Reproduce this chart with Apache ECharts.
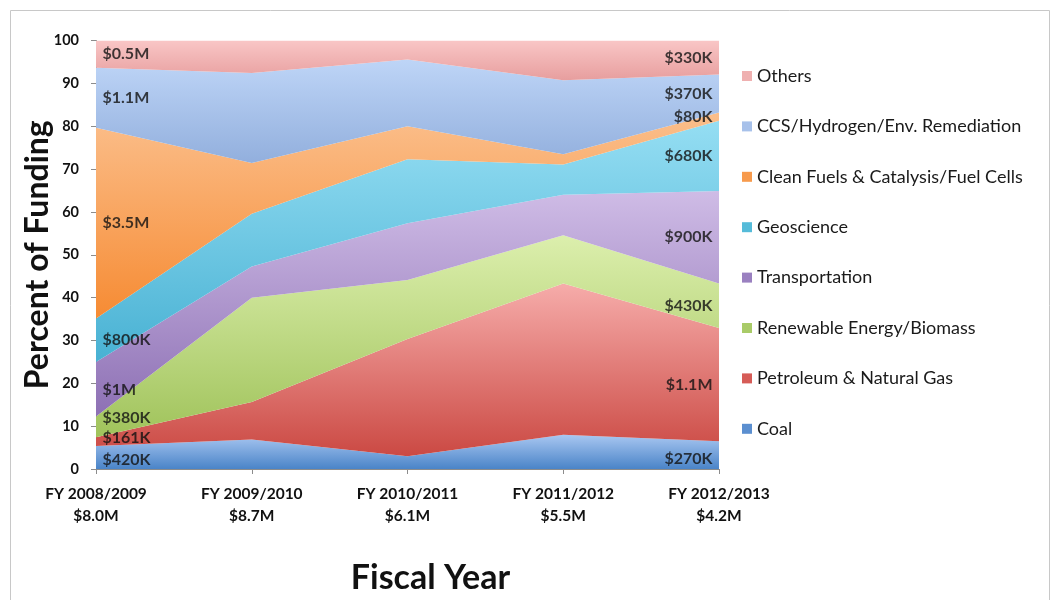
<!DOCTYPE html>
<html>
<head>
<meta charset="utf-8">
<script src="https://cdn.jsdelivr.net/npm/echarts@6/dist/echarts.min.js"></script>
<style>
  html, body { margin: 0; padding: 0; background: #ffffff; }
  #chart { width: 1059px; height: 600px; }
</style>
</head>
<body>
<div id="chart"></div>
<script>
// Fiscal years and the total budget of each year
const fiscalYears = ['FY 2008/2009', 'FY 2009/2010', 'FY 2010/2011', 'FY 2011/2012', 'FY 2012/2013'];
const yearTotals = ['$8.0M', '$8.7M', '$6.1M', '$5.5M', '$4.2M'];

// Funding per program area, in thousands of dollars
const coal           = [420,  600,  180,  440,  270];
const petroleum      = [161,  760, 1670, 1940, 1100];
const renewable      = [380, 2120,  840,  620,  430];
const transportation = [1000, 635,  805,  520,  900];
const geoscience     = [800, 1070,  910,  390,  680];
const cleanFuels     = [3500, 1030, 470,  130,   80];
const ccs            = [1100, 1830, 950,  950,  370];
const others         = [500,  660,  270,  510,  330];

// Dollar labels written on the first and last year, bottom band first
const firstYearLabels = ['$420K', '$161K', '$380K', '$1M', '$800K', '$3.5M', '$1.1M', '$0.5M'];
const lastYearLabels  = ['$270K', '$1.1M', '$430K', '$900K', '$680K', '$80K', '$370K', '$330K'];

const seriesNames = [
  'Coal',
  'Petroleum & Natural Gas',
  'Renewable Energy/Biomass',
  'Transportation',
  'Geoscience',
  'Clean Fuels & Catalysis/Fuel Cells',
  'CCS/Hydrogen/Env. Remediation',
  'Others'
];
const seriesValues = [coal, petroleum, renewable, transportation, geoscience, cleanFuels, ccs, others];

// Gradient fills: [top colour, bottom colour, legend swatch]
const palette = [
  ['#a9c7f1', '#4a84c8', '#5b8fd0'],
  ['#f6acaa', '#cb4943', '#d65c57'],
  ['#dcefad', '#a0c35b', '#a9cb68'],
  ['#cfbce6', '#8d70b4', '#9a80c0'],
  ['#95def3', '#48b1d3', '#55bbd9'],
  ['#fbbf8c', '#f68b33', '#f79a4c'],
  ['#bed5f7', '#92afdd', '#a7c1ea'],
  ['#f9c6c6', '#e79e9e', '#efb0b0']
];

const FONT = 'Lato, "Open Sans", "DejaVu Sans", sans-serif';

function gradient(top, bottom) {
  return new echarts.graphic.LinearGradient(0, 0, 0, 1, [
    { offset: 0, color: top },
    { offset: 1, color: bottom }
  ]);
}

// Convert dollars to shares of each year's total
const yearSums = fiscalYears.map((_, j) => seriesValues.reduce((s, arr) => s + arr[j], 0));
const percents = seriesValues.map(arr => arr.map((v, j) => v / yearSums[j] * 100));

// Middle of each band, used to place the dollar labels
function bandMiddle(i, j) {
  let base = 0;
  for (let k = 0; k < i; k++) base += percents[k][j];
  return base + percents[i][j] / 2;
}

// Vertical nudges for labels in the thin bands
const firstNudge = [2, -4, -9, 0, 0, 0, 0, 0];
const lastNudge  = [4, 0, 0, 0, 0, 0, 0, 0];

const lastIdx = fiscalYears.length - 1;
const labelPoints = [];
seriesNames.forEach((_, i) => {
  labelPoints.push({
    value: [0, bandMiddle(i, 0)],
    label: { formatter: firstYearLabels[i], position: 'right', distance: 6, offset: [0, firstNudge[i]] }
  });
  labelPoints.push({
    value: [lastIdx, bandMiddle(i, lastIdx)],
    label: { formatter: lastYearLabels[i], position: 'left', distance: 6, offset: [0, lastNudge[i]] }
  });
});

const areaSeries = seriesNames.map((name, i) => ({
  name: name,
  type: 'line',
  stack: 'share',
  data: percents[i],
  symbol: 'none',
  showSymbol: false,
  lineStyle: { width: 0 },
  itemStyle: { color: palette[i][2] },
  areaStyle: { color: gradient(palette[i][0], palette[i][1]), opacity: 1 },
  emphasis: { disabled: true },
  silent: true
}));

const chart = echarts.init(document.getElementById('chart'), null, { renderer: 'canvas' });

chart.setOption({
  animation: false,
  backgroundColor: '#ffffff',
  textStyle: { fontFamily: FONT },
  graphic: [{
    type: 'rect',
    shape: { x: 10.5, y: 10.5, width: 1039, height: 620 },
    style: { fill: 'none', stroke: '#c8c8c8', lineWidth: 1 },
    silent: true
  }],
  grid: { left: 96, right: 340, top: 40.5, bottom: 128.5 },
  legend: {
    orient: 'vertical',
    left: 737,
    top: 61,
    icon: 'rect',
    itemWidth: 10,
    itemHeight: 10,
    itemGap: 30.4,
    data: seriesNames.slice().reverse(),
    textStyle: { fontFamily: FONT, fontSize: 18, color: '#1a1a1a', lineHeight: 20 },
    selectedMode: false
  },
  xAxis: {
    type: 'category',
    boundaryGap: false,
    data: fiscalYears,
    axisLine: { lineStyle: { color: '#8c8c8c', width: 1 } },
    axisTick: { show: true, length: 5, lineStyle: { color: '#8c8c8c' } },
    axisLabel: {
      formatter: (v, idx) => v + '\n' + yearTotals[idx],
      fontFamily: FONT, fontWeight: 'bold', fontSize: 15.5, color: '#111', lineHeight: 22, margin: 14
    },
    name: 'Fiscal Year',
    nameLocation: 'middle',
    nameGap: 92,
    nameMoveOverlap: false,
    nameTextStyle: { fontFamily: FONT, fontWeight: 'bold', fontSize: 34, color: '#111', padding: [0, 0, 0, 46] }
  },
  yAxis: {
    type: 'value',
    min: 0,
    max: 100,
    interval: 10,
    axisLine: { show: true, lineStyle: { color: '#8c8c8c', width: 1 } },
    axisTick: { show: true, length: 5, lineStyle: { color: '#8c8c8c' } },
    splitLine: { show: false },
    axisLabel: { fontFamily: FONT, fontWeight: 'bold', fontSize: 14.5, color: '#111', margin: 17 },
    name: 'Percent of Funding',
    nameLocation: 'middle',
    nameRotate: 90,
    nameGap: 42,
    nameMoveOverlap: false,
    nameTextStyle: { fontFamily: FONT, fontWeight: 'bold', fontSize: 32, color: '#111' }
  },
  series: areaSeries.concat([{
    type: 'scatter',
    data: labelPoints,
    symbolSize: 1,
    itemStyle: { color: 'rgba(0,0,0,0)' },
    label: { show: true, fontFamily: FONT, fontWeight: 'bold', fontSize: 16, color: '#111' },
    silent: true,
    z: 10
  }])
});
</script>
</body>
</html>
